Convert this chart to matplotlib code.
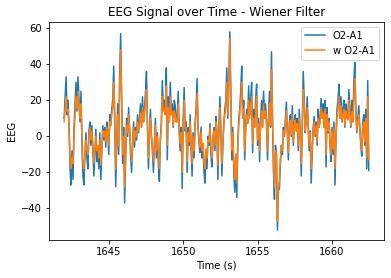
import numpy as np
import matplotlib
matplotlib.use('Agg')
import matplotlib.pyplot as plt

# EEG trace, one sample per ~1/15 s
t0 = 1642.0      # start time (s)
fs = 15.0        # samples per second

o2a1 = [10, 22, 33, 12, 20, 5, -18, -27, -8, -24,
        5, 18, 30, 14, 33, 20, 8, 25, -5, -22,
        -27, -10, 2, -12, -18, 3, 8, -5, 6, -8,
        -22, -10, 4, -14, -6, -18, 2, -24, -8, 6,
        -2, 5, -6, 8, 2, -10, 12, 6, 15, 20,
        39, 10, -28, -5, 18, -10, 35, 57, 20, -15,
        5, -37, -12, 10, 0, 16, 4, -10, -20, -5,
        8, -6, 5, -2, 12, 2, 10, 18, 5, 22,
        8, 15, 24, 36, 6, -18, 2, 15, 0, -8,
        -20, -5, 10, -12, 2, -15, -25, -2, 8, 31,
        15, 20, 12, 38, -13, 22, 8, 30, 12, 18,
        5, 20, 17, 8, 10, 25, 2, -8, 5, -29,
        10, 27, 3, 8, -20, 5, -5, 12, -8, -22,
        2, -12, 8, 15, 32, 5, -4, -9, 5, -12,
        -5, -20, -26, -8, -18, 0, -5, 7, -10, -17,
        -2, 5, -8, 11, 2, -24, 5, 22, 3, -22,
        -5, 8, 15, 20, 38, 10, 30, 58, 25, -13,
        5, -20, -31, -10, -34, -5, 10, 15, 25, 39,
        10, 20, -13, 5, 15, 8, 28, 12, 20, 30,
        -9, 15, 5, 20, 29, -5, 10, -14, 8, 20,
        5, 25, 12, 18, 8, -13, 10, 25, 5, 47,
        10, -20, -35, -5, -10, -52, -30, -29, -15, -5,
        -10, 5, 0, 10, 19, 2, -13, 8, 12, 0,
        17, -5, 8, 12, 3, 10, -8, 15, 2, -22,
        5, 36, 20, 2, 10, 22, 5, -8, 3, -26,
        -10, 5, 11, 0, 8, -5, 15, 5, 10, 21,
        12, 18, 5, 20, -17, 16, 2, 10, -5, -14,
        5, -10, 8, -27, 0, 15, 20, 29, 10, 22,
        8, 15, 20, 5, 18, 12, 10, 26, 15, 5,
        20, 8, 30, 41, 15, 2, 10, 17, 5, -5,
        -11, 8, 12, -5, 15, -18, 31, -19]

# wiener filtered trace
w_o2a1 = [8, 15, 22, 14, 15, 4, -12, -18, -12, -15,
          0, 12, 22, 16, 25, 18, 10, 18, 0, -15,
          -18, -10, -2, -8, -10, 0, 5, -2, 3, -5,
          -15, -8, 0, -8, -5, -12, -2, -16, -6, 3,
          0, 3, -3, 5, 2, -5, 8, 6, 12, 16,
          30, 12, -18, -3, 12, -5, 28, 48, 20, -10,
          0, -28, -10, 6, 2, 12, 4, -6, -14, -4,
          5, -3, 3, 0, 8, 3, 8, 13, 5, 16,
          8, 12, 18, 26, 6, -12, 2, 10, 0, -6,
          -14, -4, 6, -8, 0, -10, -18, -3, 6, 22,
          14, 15, 12, 28, -5, 16, 8, 22, 12, 14,
          6, 14, 12, 8, 8, 18, 3, -4, 2, -20,
          5, 20, 4, 5, -14, 2, -3, 8, -5, -15,
          0, -8, 5, 12, 24, 6, -2, -6, 2, -8,
          -4, -14, -18, -7, -12, -2, -3, 5, -6, -12,
          -2, 3, -5, 8, 2, -16, 3, 16, 4, -15,
          -4, 6, 12, 16, 30, 12, 28, 54, 24, -8,
          2, -15, -24, -10, -26, -6, 6, 12, 20, 30,
          10, 15, -8, 4, 12, 7, 20, 10, 16, 22,
          -4, 10, 5, 15, 22, -2, 7, -8, 6, 14,
          5, 18, 10, 14, 7, -8, 8, 18, 6, 37,
          10, -14, -28, -8, -10, -47, -30, -24, -12, -5,
          -8, 3, 0, 7, 14, 2, -9, 5, 9, 1,
          12, -3, 6, 9, 3, 7, -5, 10, 2, -15,
          5, 26, 16, 3, 8, 16, 5, -5, 2, -18,
          -7, 3, 8, 1, 6, -3, 10, 5, 8, 16,
          10, 13, 5, 15, -10, 12, 3, 8, -3, -10,
          3, -7, 5, -18, 0, 10, 15, 22, 10, 17,
          8, 12, 15, 6, 14, 10, 9, 20, 12, 6,
          14, 8, 22, 32, 12, 3, 8, 12, 4, -3,
          -8, 5, 8, -3, 10, -12, 22, -13]

time = t0 + np.arange(len(o2a1)) / fs

fig = plt.figure(figsize=(391 / 72, 278 / 72), dpi=72)
ax = fig.add_axes([0.125, 0.137, 0.857, 0.784])

ax.plot(time, o2a1, label='O2-A1')
ax.plot(time, w_o2a1, label='w O2-A1')

ax.set_xticks([1645, 1650, 1655, 1660])
ax.set_yticks([-40, -20, 0, 20, 40, 60])
ax.set_xlabel('Time (s)')
ax.set_ylabel('EEG')
ax.set_title('EEG Signal over Time - Wiener Filter')
ax.legend(loc='upper right')

fig.savefig('out.png', dpi=72)
